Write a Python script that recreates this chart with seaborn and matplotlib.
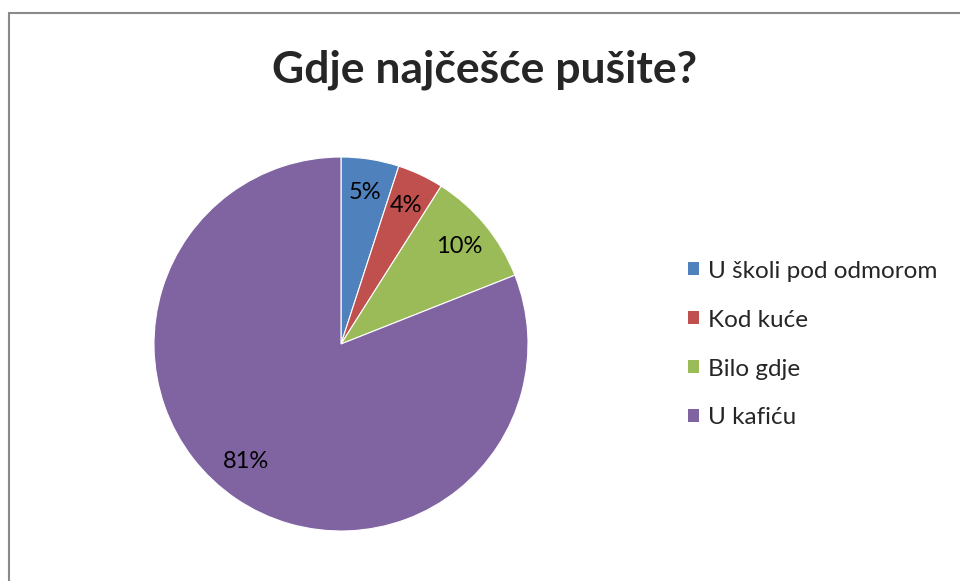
import matplotlib.pyplot as plt
from matplotlib.patches import Patch
from matplotlib.lines import Line2D
import numpy as np
import seaborn as sns

sns.set_theme(style="white")
plt.rcParams['font.family'] = ['Lato', 'DejaVu Sans']

categories = ["U školi pod odmorom", "Kod kuće", "Bilo gdje", "U kafiću"]
values = [5, 4, 10, 81]
colors = sns.color_palette(["#4F81BD", "#C0504D", "#9BBB59", "#8064A2"])

fig = plt.figure(figsize=(9.6, 5.81), dpi=100)
fig.patch.set_facecolor("white")

# pie axes: centre ~ (341, 344) px, radius ~187 px
W, H = 960, 581
cx, cy, r = 341, 344, 187
ax = fig.add_axes([(cx - r) / W, (H - cy - r) / H, 2 * r / W, 2 * r / H])
wedges, texts, autotexts = ax.pie(
    values, colors=colors, startangle=90, counterclock=False,
    autopct=lambda p: f"{p:.0f}%", pctdistance=0.82,
    wedgeprops=dict(edgecolor="white", linewidth=0.8),
    textprops=dict(fontsize=17, color="black"))
ax.set_xlim(-1, 1)
ax.set_ylim(-1, 1)
ax.set_aspect("auto")
ax.axis("off")

# Excel puts the big slice label nearer its left side
ang = np.deg2rad(231)
autotexts[3].set_position((0.81 * np.cos(ang), 0.81 * np.sin(ang)))

fig.text(0.505, 0.88, "Gdje najčešće pušite?", ha="center", va="center",
         fontsize=32, fontweight="bold")

handles = [Patch(facecolor=c, edgecolor="none") for c in colors]
fig.legend(handles, categories, loc="center left", bbox_to_anchor=(0.717, 0.407),
           frameon=False, fontsize=17.5, handlelength=0.45, handleheight=0.45,
           handletextpad=0.35, labelspacing=1.15, borderpad=0, borderaxespad=0)

# chart frame (only top and left edges visible in the crop)
gray = "#8a8a8a"
fig.add_artist(Line2D([8.5 / W, 8.5 / W], [0, (H - 13) / H], color=gray, lw=1.5))
fig.add_artist(Line2D([8.5 / W, 1], [(H - 13) / H, (H - 13) / H], color=gray, lw=1.5))

fig.savefig("out.png", dpi=100, facecolor="white")
